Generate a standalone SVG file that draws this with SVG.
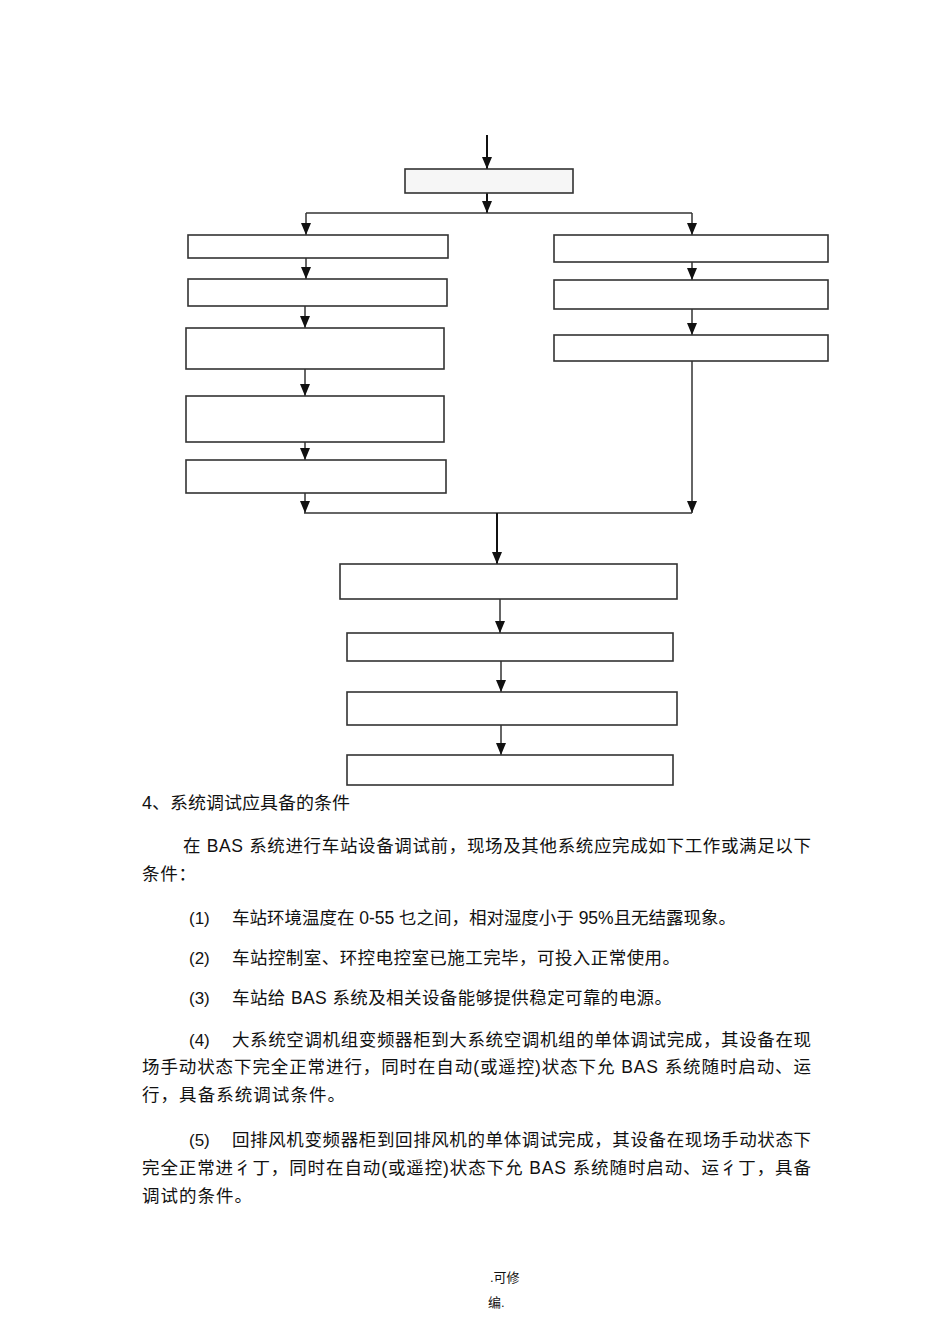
<svg xmlns="http://www.w3.org/2000/svg" width="950" height="1344" viewBox="0 0 950 1344">
<style>
.box{fill:#ffffff;stroke:#333333;stroke-width:1.6}
.conn{fill:none;stroke:#333333;stroke-width:1.5}
.arr{fill:none;stroke:#111111;stroke-width:2}
.t{font-family:"Liberation Sans","Noto Sans CJK SC",sans-serif;font-size:17.5px;fill:#111111}
.num{font-family:"Liberation Sans","Noto Sans CJK SC",sans-serif;font-size:17px;fill:#111111}
.f{font-family:"Liberation Sans","Noto Sans CJK SC",sans-serif;font-size:13px;fill:#111111}
</style>
<defs>
<marker id="ah" viewBox="0 0 12 10" refX="12" refY="5" markerWidth="12" markerHeight="10" markerUnits="userSpaceOnUse" orient="auto">
<path d="M0,0 L12,5 L0,10 z" fill="#111111"/>
</marker>
</defs>
<rect width="950" height="1344" fill="#ffffff"/>

<g id="connectors">
<line class="arr" x1="487" y1="135" x2="487" y2="169" marker-end="url(#ah)"/>
<line class="arr" x1="487" y1="193" x2="487" y2="213" marker-end="url(#ah)"/>
<line class="conn" x1="306" y1="213" x2="692" y2="213"/>
<line class="conn" x1="306" y1="213" x2="306" y2="235" marker-end="url(#ah)"/>
<line class="conn" x1="692" y1="213" x2="692" y2="235" marker-end="url(#ah)"/>
<line class="conn" x1="306" y1="258" x2="306" y2="279" marker-end="url(#ah)"/>
<line class="conn" x1="305" y1="306" x2="305" y2="328" marker-end="url(#ah)"/>
<line class="conn" x1="305" y1="369" x2="305" y2="396" marker-end="url(#ah)"/>
<line class="conn" x1="305" y1="442" x2="305" y2="460" marker-end="url(#ah)"/>
<line class="conn" x1="305" y1="493" x2="305" y2="513" marker-end="url(#ah)"/>
<line class="conn" x1="692" y1="262" x2="692" y2="280" marker-end="url(#ah)"/>
<line class="conn" x1="692" y1="309" x2="692" y2="335" marker-end="url(#ah)"/>
<line class="conn" x1="692" y1="361" x2="692" y2="513" marker-end="url(#ah)"/>
<line class="conn" x1="304" y1="513" x2="692" y2="513"/>
<line class="arr" x1="497" y1="513" x2="497" y2="564" marker-end="url(#ah)"/>
<line class="conn" x1="500" y1="599" x2="500" y2="633" marker-end="url(#ah)"/>
<line class="conn" x1="501" y1="661" x2="501" y2="692" marker-end="url(#ah)"/>
<line class="conn" x1="501" y1="725" x2="501" y2="755" marker-end="url(#ah)"/>
</g>

<g id="node-top"><rect class="box" x="405" y="169" width="168" height="24" style="fill:#f6f6f6"/></g>
<g id="node-l1"><rect class="box" x="188" y="235" width="260" height="23"/></g>
<g id="node-l2"><rect class="box" x="188" y="279" width="259" height="27"/></g>
<g id="node-l3"><rect class="box" x="186" y="328" width="258" height="41"/></g>
<g id="node-l4"><rect class="box" x="186" y="396" width="258" height="46"/></g>
<g id="node-l5"><rect class="box" x="186" y="460" width="260" height="33"/></g>
<g id="node-r1"><rect class="box" x="554" y="235" width="274" height="27"/></g>
<g id="node-r2"><rect class="box" x="554" y="280" width="274" height="29"/></g>
<g id="node-r3"><rect class="box" x="554" y="335" width="274" height="26"/></g>
<g id="node-m1"><rect class="box" x="340" y="564" width="337" height="35"/></g>
<g id="node-m2"><rect class="box" x="347" y="633" width="326" height="28"/></g>
<g id="node-m3"><rect class="box" x="347" y="692" width="330" height="33"/></g>
<g id="node-m4"><rect class="box" x="347" y="755" width="326" height="30"/></g>

<g id="body-text">
<text class="t" x="142" y="809" textLength="208" lengthAdjust="spacingAndGlyphs">4、系统调试应具备的条件</text>
<text class="t" x="183" y="852" textLength="628" lengthAdjust="spacing">在 BAS 系统进行车站设备调试前，现场及其他系统应完成如下工作或满足以下</text>
<text class="t" x="142" y="880" textLength="54" lengthAdjust="spacing">条件：</text>
<text class="num" x="189" y="924">(1)</text>
<text class="t" x="232" y="924" textLength="504" lengthAdjust="spacing">车站环境温度在 0-55 乜之间，相对湿度小于 95%且无结露现象。</text>
<text class="num" x="189" y="964">(2)</text>
<text class="t" x="232" y="964" textLength="448" lengthAdjust="spacing">车站控制室、环控电控室已施工完毕，可投入正常使用。</text>
<text class="num" x="189" y="1004">(3)</text>
<text class="t" x="232" y="1004" textLength="440" lengthAdjust="spacing">车站给 BAS 系统及相关设备能够提供稳定可靠的电源。</text>
<text class="num" x="189" y="1046">(4)</text>
<text class="t" x="232" y="1046" textLength="579" lengthAdjust="spacing">大系统空调机组变频器柜到大系统空调机组的单体调试完成，其设备在现</text>
<text class="t" x="142" y="1073" textLength="669" lengthAdjust="spacing">场手动状态下完全正常进行，同时在自动(或遥控)状态下允 BAS 系统随时启动、运</text>
<text class="t" x="142" y="1101" textLength="203" lengthAdjust="spacing">行，具备系统调试条件。</text>
<text class="num" x="189" y="1146">(5)</text>
<text class="t" x="232" y="1146" textLength="579" lengthAdjust="spacing">回排风机变频器柜到回排风机的单体调试完成，其设备在现场手动状态下</text>
<text class="t" x="142" y="1174" textLength="669" lengthAdjust="spacing">完全正常进彳丁，同时在自动(或遥控)状态下允 BAS 系统随时启动、运彳丁，具备</text>
<text class="t" x="142" y="1202" textLength="110" lengthAdjust="spacing">调试的条件。</text>
<text class="f" x="490" y="1282">.可修</text>
<text class="f" x="488" y="1307">编.</text>
</g>
</svg>
